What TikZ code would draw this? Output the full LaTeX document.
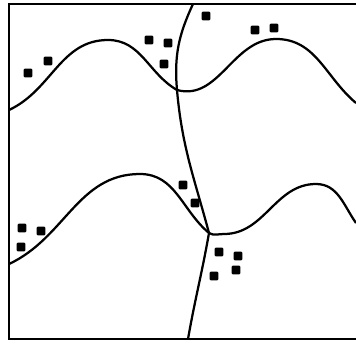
\documentclass[tikz,border=0pt]{standalone}
\usetikzlibrary{positioning}

\begin{document}
\begin{tikzpicture}[
        x=0.025cm, y=0.025cm,
        frame/.style={line width=1.6pt, black},
        curve/.style={line width=1.6pt, black},
        sq/.style={rectangle, fill=black, minimum size=0.22cm, inner sep=0pt, rounded corners=0.8pt},
    ]
        \useasboundingbox (0,0) rectangle (356,351);

        % Frame (open on the right)
        \coordinate (tr) at (356,347);
        \coordinate (tl) at (9,347);
        \coordinate (bl) at (9,12);
        \coordinate (br) at (356,12);
        \draw[frame] (tr) -- (tl) -- (bl) -- (br);

        % Points on the curves
        \coordinate (uA) at (9,241);
        \coordinate (uP1) at (108,311);
        \coordinate (cU) at (177,261);
        \coordinate (uP2) at (276,312);
        \coordinate (uE) at (356,248);
        \coordinate (lA) at (9,87);
        \coordinate (lP1) at (140,177);
        \coordinate (cL) at (209,118);
        \coordinate (lM) at (224,117);
        \coordinate (lP2) at (316,167);
        \coordinate (lE) at (356,128);
        \coordinate (vT) at (193,347);
        \coordinate (vB) at (188,12);

        % Upper wave
        \draw[curve] (uA) to[out=25,in=180] (uP1) to[out=0,in=150] (cU) to[out=-15,in=180] (uP2) to[out=0,in=140] (uE);

        % Lower wave
        \draw[curve] (lA) to[out=25,in=180] (lP1) to[out=0,in=140] (cL) to[out=-30,in=180] (lM) to[out=0,in=180] (lP2) to[out=0,in=125] (lE);

        % Vertical boundary
        \draw[curve] (vT) to[out=-115,in=95] (cU) to[out=-85,in=105] (cL) to[out=-100,in=80] (vB);

        % Squares, upper left
        \node[sq] (s1) at (28,278) {};
        \node[sq] (s2) at (48,290) {};
        \node[sq] (s3) at (149,311) {};
        \node[sq] (s4) at (168,308) {};
        \node[sq] (s5) at (164,287) {};

        % Squares, upper right
        \node[sq] (s6) at (206,335) {};
        \node[sq] (s7) at (255,321) {};
        \node[sq] (s8) at (274,323) {};

        % Squares, lower left
        \node[sq] (s9) at (22,123) {};
        \node[sq] (s10) at (41,120) {};
        \node[sq] (s11) at (21,104) {};
        \node[sq] (s12) at (183,166) {};
        \node[sq] (s13) at (195,148) {};

        % Squares, lower right
        \node[sq] (s14) at (219,99) {};
        \node[sq] (s15) at (238,95) {};
        \node[sq] (s16) at (214,75) {};
        \node[sq] (s17) at (236,81) {};
    \end{tikzpicture}
\end{document}
